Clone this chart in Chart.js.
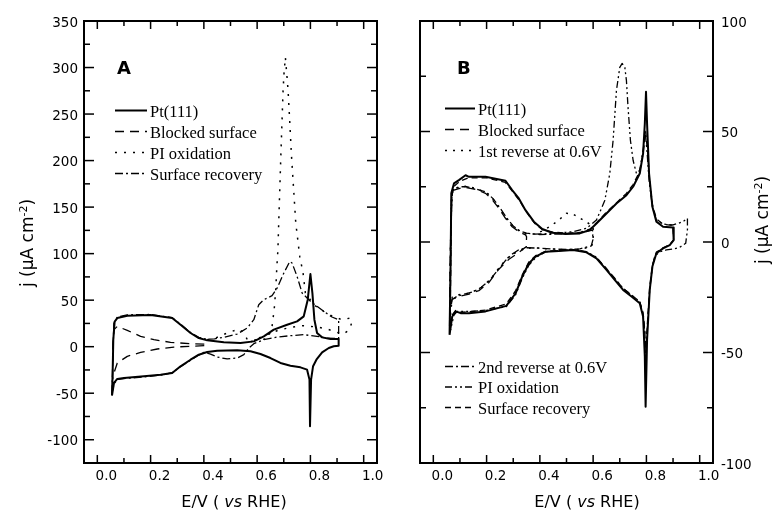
<!DOCTYPE html>
<html>
<head>
<meta charset="utf-8">
<script src="https://cdn.jsdelivr.net/npm/chart.js@4.4.1/dist/chart.umd.min.js"></script>
<style>
  html, body { margin: 0; padding: 0; background: #fff; }
  #wrap { position: relative; width: 778px; height: 523px; overflow: hidden; }
  canvas { position: absolute; top: 0; }
  #cvA { left: 0; }
  #cvB { left: 389px; }
  .xt { position: absolute; top: 491px; width: 200px; text-align: center; font: 16px "DejaVu Sans", sans-serif; line-height: 22px; color: #000; white-space: nowrap; }
  .yt { position: absolute; width: 140px; height: 22px; text-align: center; font: 17px "DejaVu Sans", sans-serif; line-height: 22px; color: #000; transform: rotate(-90deg); white-space: nowrap; }
  .yt sup { font-size: 11px; vertical-align: 6px; line-height: 0; }
</style>
</head>
<body>
<div id="wrap">
  <canvas id="cvA" width="389" height="523"></canvas>
  <canvas id="cvB" width="389" height="523"></canvas>
  <div class="xt" style="left:134px">E/V ( <i>vs</i> RHE)</div>
  <div class="xt" style="left:487px">E/V ( <i>vs</i> RHE)</div>
  <div class="yt" style="left:-43px;top:232px">j (µA cm<sup>-2</sup>)</div>
  <div class="yt" style="left:692px;top:209px">j (µA cm<sup>-2</sup>)</div>
</div>
<script>
// tick values
const xTicks = [0, 0.2, 0.4, 0.6, 0.8, 1.0];
const yTicksA = [-100, -50, 0, 50, 100, 150, 200, 250, 300, 350];
const yTicksB = [-100, -50, 0, 50, 100];

const labelsA = ['Pt(111)', 'Blocked surface', 'PI oxidation', 'Surface recovery'];
const labelsB = ['Pt(111)', 'Blocked surface', '1st reverse at 0.6V', '2nd reverse at 0.6V', 'PI oxidation', 'Surface recovery'];

// panel A curves, [E, j]
const ptA = [[0.055,-52.6],[0.0575,-28],[0.06,7.5],[0.065,27],[0.075,30.8],[0.1125,33.3],[0.2,34],[0.281,30.8],[0.3125,23.6],[0.35,14.7],[0.381,9.3],[0.4125,6.8],[0.475,4.7],[0.5375,3.9],[0.5875,5.7],[0.625,11.1],[0.6625,18.3],[0.7125,23.6],[0.75,27.2],[0.775,32.6],[0.79,50.5],[0.8,78],[0.8075,57.6],[0.815,29],[0.825,14.7],[0.844,10],[0.875,8.2],[0.906,8.2],
  [0.906,1.1],[0.8875,0.4],[0.869,-1.4],[0.844,-6.1],[0.8225,-14],[0.81,-21],[0.8025,-35.4],[0.7985,-85.6],[0.7965,-35.4],[0.7875,-24.7],[0.7625,-22.2],[0.725,-20.4],[0.6875,-17.5],[0.65,-12.2],[0.6125,-7.9],[0.575,-5],[0.525,-3.9],[0.45,-4.3],[0.4125,-5.7],[0.381,-8.6],[0.35,-14],[0.3125,-21.1],[0.281,-28.3],[0.2375,-30.1],[0.175,-31.9],[0.1,-33.7],[0.075,-34.7],[0.0625,-39],[0.055,-52.6]];
const blockedA = [[0.0575,-35],[0.058,0],[0.0625,18.3],[0.075,21.8],[0.1125,17.5],[0.1625,11.1],[0.2125,7.5],[0.275,4.7],[0.35,3.2],[0.41,2.8],
  [0.41,1.2],[0.35,0.4],[0.2875,-0.4],[0.225,-2.5],[0.1625,-6.1],[0.1125,-10.4],[0.075,-17.5],[0.0625,-28.3],[0.0575,-35]];
const oxidA = [[0.4125,7.5],[0.444,9.3],[0.4875,14.7],[0.531,19],[0.5475,15.4],[0.5625,8.2],[0.6,7],[0.64,8.5],[0.656,21.8],[0.664,40],[0.67,62],[0.674,86],[0.678,104],[0.681,133],[0.685,169],[0.689,205],[0.694,247],[0.6975,276],[0.701,294],[0.706,311],[0.711,294],[0.716,276],[0.7215,247],[0.729,205],[0.737,169],[0.745,133],[0.76,97],[0.7725,79],[0.781,58],[0.8125,45],[0.85,38],[0.8875,32],[0.919,29],[0.95,30.8],[0.956,27],
  [0.95,21],[0.9375,16.5],[0.925,13.6],[0.9,15.4],[0.8625,19],[0.825,21.1],[0.775,22.6],[0.725,20.8],[0.675,17.2],[0.625,11.8],[0.5875,6.8],[0.5625,3.2]];
const recoveryA = [[0.055,-50],[0.0575,-20],[0.062,25],[0.075,31.8],[0.1125,34.2],[0.2,34.6],[0.281,31.2],[0.3125,24.2],[0.35,15.2],[0.381,10],[0.41,8],[0.44,8.5],[0.475,10],[0.525,13.6],[0.5625,20],[0.5875,29],[0.606,45],[0.625,50.5],[0.656,54.8],[0.675,63],[0.7,79],[0.7225,91.5],[0.731,90],[0.75,75.5],[0.769,57.6],[0.8,48.7],[0.85,38],[0.881,31.9],[0.906,29],
  [0.906,8.8],[0.8625,9.3],[0.825,11.1],[0.775,12.9],[0.725,11.8],[0.675,10.4],[0.625,7.5],[0.5875,3.2],[0.569,-1.4],[0.55,-8.6],[0.525,-12.2],[0.4875,-13.2],[0.45,-11.1],[0.425,-7.9],[0.4,-6.1],[0.381,-9],[0.35,-14.6],[0.3125,-21.6],[0.281,-28],[0.2375,-30.6],[0.175,-32.4],[0.1,-34.3],[0.075,-35.3],[0.0625,-40],[0.055,-50]];

// panel B curves, [E, j]
const ptB = [[0.061,-42],[0.065,-8.1],[0.0675,22],[0.0775,26.5],[0.096,28],[0.121,30.2],[0.134,29.5],[0.196,29.5],[0.271,27.7],[0.296,23.5],[0.321,19.7],[0.346,14.4],[0.3775,9.2],[0.409,5.9],[0.446,4.2],[0.496,3.6],[0.55,3.9],[0.5875,5.4],[0.6125,8.4],[0.65,12.9],[0.6875,17.4],[0.725,21.2],[0.75,25],[0.775,31],[0.7875,40],[0.794,53.5],[0.7985,68],[0.8025,53.5],[0.81,31],[0.8225,15.9],[0.8375,9.2],[0.8625,6.9],[0.9,6.6],
  [0.9025,0.9],[0.8875,-1.4],[0.8625,-2.9],[0.8375,-5.1],[0.8225,-11.1],[0.8125,-21.7],[0.8025,-44.2],[0.797,-74.5],[0.794,-51.7],[0.7875,-33.7],[0.775,-27.7],[0.744,-24.7],[0.7125,-21.7],[0.681,-17.1],[0.65,-12.6],[0.6125,-7.4],[0.575,-4.7],[0.525,-3.6],[0.471,-4.1],[0.421,-4.4],[0.384,-6.6],[0.359,-9.6],[0.334,-15.6],[0.309,-23.2],[0.274,-28.9],[0.196,-31.4],[0.134,-32.2],[0.1025,-32.2],[0.084,-31.4],[0.071,-33.7],[0.061,-42]];
const blockedB = [[0.061,-38],[0.063,-10],[0.0675,16],[0.071,23.2],[0.096,24.2],[0.121,24.7],[0.159,23.8],[0.196,22],[0.221,19.2],[0.246,15.2],[0.271,10.7],[0.296,6.9],[0.321,4.7],[0.346,3.2],[0.35,2.4],
  [0.349,-2.2],[0.34,-2.9],[0.321,-4.8],[0.284,-7.8],[0.246,-12.3],[0.209,-18.3],[0.171,-22],[0.134,-23.6],[0.096,-24.7],[0.071,-25.9],[0.064,-30.7],[0.061,-38]];
const rev1B = [[0.062,-36],[0.064,-5],[0.068,20],[0.075,24],[0.1,25],[0.125,25.2],[0.16,24.2],[0.2,22.2],[0.225,19.3],[0.25,15],[0.275,10.5],[0.3,7],[0.325,4.8],[0.35,3.6],[0.38,3.6],[0.41,5],[0.446,7.7],[0.471,9.9],[0.5,13],[0.525,12.6],[0.55,10.9],[0.5875,8.1],[0.6,6.9],
  [0.6,0.9],[0.594,-2.1],[0.55,-3.3],[0.5,-3.6],[0.471,-3.3],[0.421,-3],[0.371,-2.5],[0.321,-3.9],[0.284,-6.6],[0.2525,-10.8],[0.215,-16.8],[0.1775,-20.9],[0.134,-23.2],[0.096,-23.9],[0.071,-25],[0.062,-36]];
const rev2B = [[0.063,-30],[0.066,8],[0.072,23.5],[0.1,25],[0.125,25],[0.16,24],[0.2,22.5],[0.225,19.5],[0.25,15.5],[0.275,11],[0.3,7.2],[0.325,5],[0.35,4],[0.4,3.4],[0.45,3.5],[0.5,3.8],[0.55,4.2],[0.585,5],[0.598,5.4],
  [0.599,1],[0.593,-1.8],[0.55,-3.1],[0.5,-3.4],[0.45,-3.2],[0.4,-2.8],[0.35,-2.6],[0.321,-3.5],[0.296,-5.5],[0.27,-8.5],[0.24,-13],[0.21,-17.5],[0.18,-20.5],[0.15,-22.5],[0.12,-23.5],[0.09,-24.5],[0.07,-26],[0.063,-30]];
const oxidB = [[0.38,3.6],[0.45,3.8],[0.525,4.7],[0.575,6.2],[0.6125,9.9],[0.644,18.9],[0.6625,31],[0.675,46],[0.6875,68.6],[0.7,79],[0.709,80.8],[0.719,79],[0.725,73],[0.731,61],[0.74,46],[0.75,37],[0.7625,31],[0.775,32.5],[0.7875,41.5],[0.796,49],[0.802,41.5],[0.81,28],[0.8225,16],[0.8375,9.9],[0.8625,8.1],[0.9,7.7],[0.9375,9.2],[0.954,10.7],
  [0.954,5.4],[0.9475,-0.6],[0.925,-2.4],[0.9,-3.2],[0.875,-3.6],[0.85,-4.4],[0.831,-6.6],[0.8225,-11],[0.8125,-21.5],[0.8025,-41],[0.7985,-50],[0.794,-41],[0.7875,-33],[0.775,-27],[0.744,-24],[0.7125,-21],[0.681,-16.4],[0.65,-12.3],[0.6125,-6.9],[0.575,-4.4],[0.525,-3.3],[0.471,-3.9],[0.421,-4.5],[0.384,-7.1],[0.359,-10.4],[0.334,-16.4],[0.309,-23.9],[0.274,-29.2],[0.196,-31],[0.134,-31.4],[0.09,-31.4],[0.0775,-33],[0.065,-39.7]];
const recoveryB = [[0.063,-38],[0.066,-5],[0.069,21],[0.08,25.5],[0.1,27.5],[0.13,29],[0.2,29],[0.27,27],[0.3,22.5],[0.325,18.5],[0.35,13.5],[0.38,8.5],[0.41,5.5],[0.45,4.5],[0.5,4],[0.55,4.3],[0.59,6],[0.615,9],[0.65,13.5],[0.69,18],[0.725,22],[0.75,26],[0.775,32],[0.7875,40],[0.797,50],[0.805,40],[0.812,28],[0.8225,17],[0.8375,10.5],[0.8625,8],[0.9,7.5],
  [0.902,1],[0.8875,-1.2],[0.8625,-2.6],[0.8375,-4.6],[0.8225,-10.5],[0.8125,-20.5],[0.803,-38],[0.797,-50],[0.794,-40],[0.7875,-32],[0.775,-27],[0.744,-24],[0.7125,-21],[0.681,-16.5],[0.65,-12],[0.6125,-7],[0.575,-4.5],[0.525,-3.5],[0.471,-3.9],[0.421,-4.2],[0.384,-6.2],[0.359,-9],[0.334,-14.8],[0.309,-22],[0.274,-28],[0.196,-30.8],[0.134,-31.6],[0.1025,-31.8],[0.084,-31],[0.071,-33],[0.063,-38]];

Chart.defaults.color = '#000';
Chart.defaults.font.family = '"DejaVu Sans", sans-serif';

const SOLID = [], DASH = [9, 6], DOT = [2, 6], DASHDOT = [8, 3, 2, 3], DASHDOTDOT = [7, 3, 2, 3, 2, 3], SHORT = [6, 4];
const tickFont = { family: '"DejaVu Sans", sans-serif', size: 13.5 };

function curve(label, pts, dash, width) {
  return {
    label: label,
    data: pts.map(p => ({ x: p[0], y: p[1] })),
    showLine: true, fill: false, tension: 0,
    pointRadius: 0, borderColor: '#000', borderWidth: width || 1.3,
    borderDash: dash, borderCapStyle: 'butt', borderJoinStyle: 'round'
  };
}

// inward ticks on all four sides + frame
const framePlugin = {
  id: 'cvFrame',
  afterDraw(chart, args, o) {
    const { ctx, chartArea: a } = chart;
    const sx = chart.scales.x, sy = chart.scales.y;
    const seg = (x1, y1, x2, y2) => { ctx.beginPath(); ctx.moveTo(x1, y1); ctx.lineTo(x2, y2); ctx.stroke(); };
    ctx.save();
    ctx.strokeStyle = '#000';
    ctx.lineWidth = 1.5;
    o.xTicks.forEach((v, i) => {
      const px = sx.getPixelForValue(v);
      seg(px, a.bottom, px, a.bottom - 8); seg(px, a.top, px, a.top + 8);
      if (i < o.xTicks.length - 1) {
        const m = sx.getPixelForValue((v + o.xTicks[i + 1]) / 2);
        seg(m, a.bottom, m, a.bottom - 5); seg(m, a.top, m, a.top + 5);
      }
    });
    o.yTicks.forEach((v, i) => {
      const py = sy.getPixelForValue(v);
      seg(a.left, py, a.left + 10, py); seg(a.right, py, a.right - 10, py);
      if (i < o.yTicks.length - 1) {
        const m = sy.getPixelForValue((v + o.yTicks[i + 1]) / 2);
        seg(a.left, m, a.left + 6, m); seg(a.right, m, a.right - 6, m);
      }
    });
    ctx.lineWidth = 2;
    ctx.strokeRect(a.left, a.top, a.right - a.left, a.bottom - a.top);
    ctx.restore();
  }
};

// legend inside plot + panel letter
const legendPlugin = {
  id: 'cvLegend',
  afterDraw(chart, args, o) {
    const ctx = chart.ctx;
    ctx.save();
    ctx.fillStyle = '#000';
    ctx.strokeStyle = '#000';
    o.groups.forEach(g => {
      g.items.forEach((di, k) => {
        const ds = chart.data.datasets[di];
        const yy = g.y + k * g.step;
        ctx.setLineDash(ds.borderDash || []);
        ctx.lineWidth = Math.max(ds.borderWidth, 1.4);
        ctx.beginPath(); ctx.moveTo(g.x, yy); ctx.lineTo(g.x + g.len, yy); ctx.stroke();
        ctx.setLineDash([]);
        ctx.font = '16.5px "Liberation Serif", "Times New Roman", serif';
        ctx.fillText(ds.label, g.x + g.len + 3, yy + 6);
      });
    });
    ctx.font = 'bold 18px "DejaVu Sans", sans-serif';
    ctx.fillText(o.letter, o.lx, o.ly);
    ctx.restore();
  }
};

function makeChart(id, datasets, yTicks, yMin, yMax, side, pad, yWidth, legend) {
  return new Chart(document.getElementById(id), {
    type: 'scatter',
    data: { datasets: datasets },
    options: {
      responsive: false, animation: false, events: [],
      layout: { padding: pad },
      plugins: {
        legend: { display: false }, tooltip: { enabled: false },
        cvFrame: { xTicks: xTicks, yTicks: yTicks },
        cvLegend: legend
      },
      scales: {
        x: {
          type: 'linear', min: -0.05, max: 1.05,
          grid: { display: false, drawTicks: false }, border: { display: false },
          afterBuildTicks: s => { s.ticks = xTicks.map(v => ({ value: v })); },
          afterFit: s => { s.height = 60; },
          ticks: { autoSkip: false, maxRotation: 0, padding: 5, labelOffset: 9, color: '#000', font: tickFont, callback: v => v.toFixed(1) }
        },
        y: {
          type: 'linear', position: side, min: yMin, max: yMax,
          grid: { display: false, drawTicks: false }, border: { display: false },
          afterBuildTicks: s => { s.ticks = yTicks.map(v => ({ value: v })); },
          afterFit: s => { s.width = yWidth; },
          ticks: { autoSkip: false, padding: side === 'left' ? 6 : 8, labelOffset: 2, color: '#000', font: tickFont, callback: v => String(v) }
        }
      }
    },
    plugins: [framePlugin, legendPlugin]
  });
}

makeChart('cvA', [
  curve(labelsA[0], ptA, SOLID, 2),
  curve(labelsA[1], blockedA, DASH),
  curve(labelsA[2], oxidA, [2, 7], 1.5),
  curve(labelsA[3], recoveryA, DASHDOT)
], yTicksA, -125, 350, 'left', { left: 0, top: 21, right: 12, bottom: 0 }, 84, {
  groups: [{ x: 115, y: 110.5, step: 21, len: 32, items: [0, 1, 2, 3] }],
  letter: 'A', lx: 117, ly: 74
});

makeChart('cvB', [
  curve(labelsB[0], ptB, SOLID, 2),
  curve(labelsB[1], blockedB, DASH),
  curve(labelsB[2], rev1B, DOT, 1.5),
  curve(labelsB[3], rev2B, DASHDOT),
  curve(labelsB[4], oxidB, DASHDOTDOT),
  curve(labelsB[5], recoveryB, SHORT)
], yTicksB, -100, 100, 'right', { left: 31, top: 21, right: 0, bottom: 0 }, 65, {
  groups: [
    { x: 56, y: 108.5, step: 21, len: 30, items: [0, 1, 2] },
    { x: 56, y: 366.5, step: 20.5, len: 30, items: [3, 4, 5] }
  ],
  letter: 'B', lx: 68, ly: 74
});
</script>
</body>
</html>
